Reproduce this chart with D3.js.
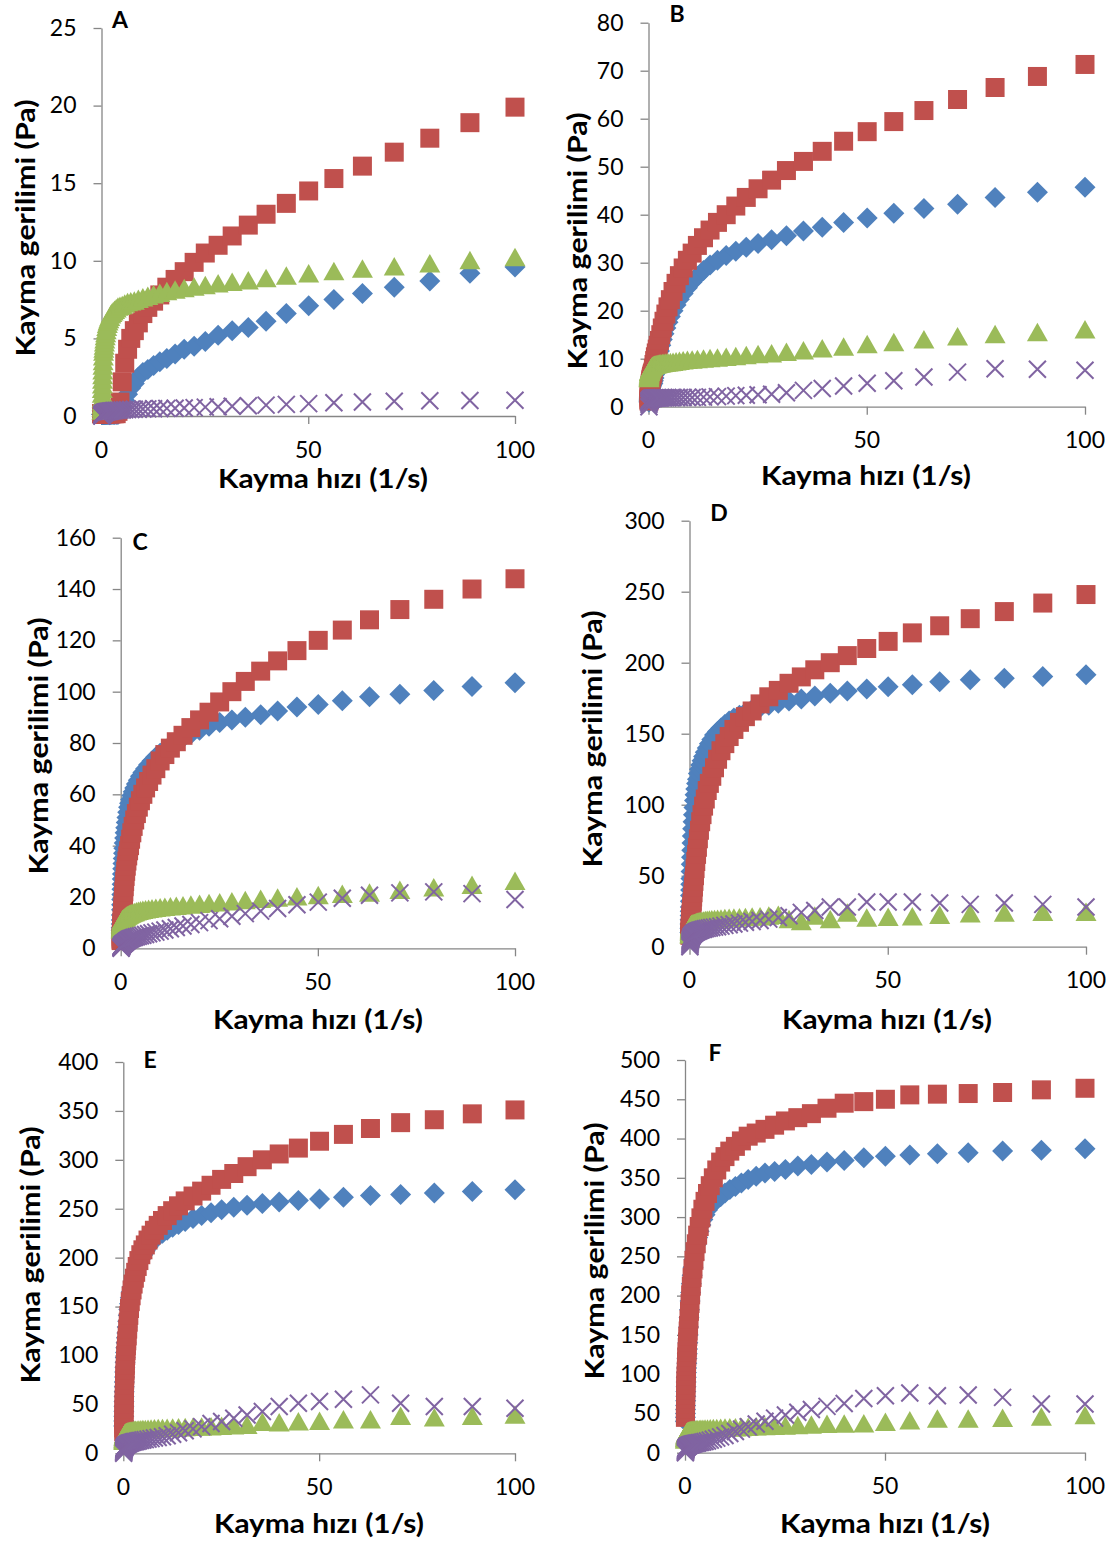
<!DOCTYPE html>
<html>
<head>
<meta charset="utf-8">
<script src="https://cdn.jsdelivr.net/npm/d3@7"></script>
<style>
  body { margin: 0; background: #fff; }
  svg text { font-family: Lato, "Open Sans", sans-serif; fill: #000; }
</style>
</head>
<body>
<svg id="chart" width="1117" height="1544"></svg>
<script>
// shear rate (1/s), log sweep, 20 points per decade
const shearRate = [0.1,0.112,0.126,0.141,0.158,0.178,0.2,0.224,0.251,0.282,
  0.316,0.355,0.398,0.447,0.501,0.562,0.631,0.708,0.794,0.891,
  1,1.12,1.26,1.41,1.58,1.78,2,2.24,2.51,2.82,
  3.16,3.55,3.98,4.47,5.01,5.62,6.31,7.08,7.94,8.91,
  10,11.2,12.6,14.1,15.8,17.8,20,22.4,25.1,28.2,
  31.6,35.5,39.8,44.7,50.1,56.2,63.1,70.8,79.4,89.1,
  100];

const xTicks = [0, 50, 100];

// panel A
const aBlue = [0.1,0.1,0.1,0.1,0.1,0.1,0.1,0.1,0.1,0.1,
  0.1,0.1,0.1,0.1,0.1,0.1,0.1,0.1,0.1,0.1,
  0.1,0.1,0.1,0.1,0.1,0.1,0.1,0.1,0.1,0.1,
  0.1,0.1,0.1,0.2,0.6,1.0,1.4,1.8,2.1,2.5,
  2.8,3.0,3.25,3.5,3.7,4.0,4.3,4.5,4.8,5.2,
  5.5,5.7,6.1,6.6,7.1,7.5,7.9,8.3,8.7,9.2,
  9.6];
const aRed = [0.15,0.15,0.15,0.15,0.15,0.15,0.15,0.15,0.15,0.15,
  0.15,0.15,0.15,0.15,0.15,0.15,0.15,0.15,0.15,0.15,
  0.15,0.15,0.15,0.15,0.15,0.15,0.15,0.15,0.15,0.15,
  0.15,0.15,0.3,0.9,2.2,3.4,4.3,5.0,5.5,6.0,
  6.6,7.0,7.4,7.8,8.3,8.8,9.3,9.9,10.5,11.0,
  11.6,12.3,13.0,13.7,14.5,15.3,16.1,17.0,17.9,18.9,
  19.9];
const aGreen = [0.3,0.5,0.7,0.9,1.1,1.4,1.7,2.0,2.3,2.6,
  2.9,3.2,3.5,3.8,4.1,4.3,4.5,4.7,4.9,5.1,
  5.3,5.5,5.7,5.9,6.05,6.2,6.35,6.5,6.6,6.7,
  6.8,6.9,7.0,7.05,7.1,7.2,7.3,7.35,7.4,7.5,
  7.6,7.7,7.8,7.9,8.0,8.1,8.2,8.3,8.4,8.5,
  8.6,8.7,8.85,9.0,9.15,9.3,9.45,9.6,9.8,10.0,
  10.2];
const aPurple = [0,0.02,0.04,0.06,0.08,0.1,0.11,0.12,0.13,0.14,
  0.15,0.16,0.17,0.18,0.19,0.2,0.21,0.22,0.23,0.24,
  0.25,0.26,0.27,0.28,0.29,0.3,0.31,0.32,0.33,0.34,
  0.35,0.36,0.37,0.38,0.39,0.4,0.41,0.42,0.43,0.44,
  0.45,0.46,0.47,0.48,0.49,0.5,0.52,0.54,0.57,0.6,
  0.63,0.66,0.7,0.75,0.8,0.85,0.9,0.95,0.98,1.0,
  1.02];

// panel B
const bBlue = [1.0,1.2,1.4,1.6,1.8,2.0,2.2,2.4,2.6,2.8,
  3.0,3.2,3.4,3.6,3.8,4.0,4.2,4.4,4.6,4.8,
  4.9,5.4,6.0,6.7,7.5,8.4,9.4,10.4,11.6,12.8,
  14.0,15.2,16.4,17.6,18.8,20.0,21.2,22.4,23.6,24.8,
  26.0,27.2,28.4,29.5,30.5,31.5,32.4,33.2,34.0,34.8,
  35.6,36.6,37.4,38.4,39.3,40.3,41.3,42.2,43.6,44.7,
  45.7];
const bRed = [1.2,1.5,1.8,2.1,2.4,2.7,3.0,3.3,3.6,3.9,
  4.2,4.5,4.8,5.1,5.4,5.7,6.0,6.3,6.6,6.9,
  7.2,8.0,8.8,9.6,10.4,11.2,12.0,12.8,13.8,15.0,
  16.4,17.8,19.3,20.8,22.3,24.0,25.7,27.3,28.9,30.5,
  32.0,33.6,35.2,36.8,38.4,40.0,41.8,43.6,45.4,47.2,
  49.2,51.1,53.2,55.3,57.3,59.4,61.7,64.0,66.5,68.8,
  71.3];
const bGreen = [5.8,6.0,6.2,6.4,6.6,6.8,7.0,7.1,7.2,7.3,
  7.4,7.5,7.6,7.7,7.8,7.9,8.0,8.1,8.2,8.3,
  8.4,8.5,8.55,8.6,8.65,8.7,8.75,8.8,8.85,8.9,
  8.95,9.0,9.05,9.1,9.15,9.2,9.3,9.4,9.5,9.6,
  9.7,9.8,9.9,10.0,10.1,10.25,10.4,10.6,10.8,11.0,
  11.3,11.6,12.0,12.4,12.9,13.3,13.9,14.5,15.0,15.4,
  16.0];
const bPurple = [0,0.5,0.8,1.0,1.1,1.2,1.25,1.3,1.35,1.4,
  1.45,1.5,1.5,1.55,1.6,1.6,1.65,1.7,1.7,1.75,
  1.75,1.75,1.75,1.8,1.8,1.8,1.8,1.8,1.8,1.85,
  1.85,1.85,1.85,1.85,1.85,1.9,1.9,1.9,1.9,1.9,
  1.9,1.95,2.0,2.05,2.1,2.2,2.3,2.4,2.5,2.6,
  2.9,3.4,3.8,4.3,4.9,5.4,6.2,7.2,7.9,7.8,
  7.6];

// panel C
const cBlue = [6,7,8,9.5,11,13,15,17,19,21,
  23,25,27,29,31,33,35,37,39,41,
  43,45,47,49,51,53,55,56.5,58,59.5,
  61,62.5,64,65.5,67,68.5,70,71.5,73,74.5,
  76,77.5,79,80.5,82,83.5,85,86.5,88,89,
  90,91,92.5,94,95,96.5,98,99,100.5,102,
  103.5];
const cRed = [3,3.5,4,4.6,5.2,5.8,6.5,7.2,8,9,
  10,11,12,13.5,15,16.5,18,20,22,24,
  26,28,30,32,34,36,38,40,42.5,45,
  47.5,50,52.5,55,57.5,60,62.5,65,67.5,70,
  73,75.5,78,80.5,83,86,89,92,96,100,
  104,108,112,116,120,124,128,132,136,140,
  144];
const cGreen = [7,7.4,7.8,8.2,8.6,9.0,9.3,9.6,9.9,10.1,
  10.3,10.5,10.7,10.9,11.0,11.1,11.2,11.3,11.4,11.5,
  11.7,11.9,12.1,12.3,12.5,12.7,12.9,13.1,13.3,13.5,
  13.7,13.9,14.1,14.3,14.5,14.7,14.9,15.1,15.3,15.5,
  15.7,15.9,16.1,16.3,16.5,16.8,17.1,17.4,17.7,18.0,
  18.5,19.0,19.5,20.0,20.5,21.0,21.5,22.5,23.5,24.5,
  26];
const cPurple = [0,0.2,0.35,0.5,0.6,0.7,0.8,0.9,1.0,1.05,
  1.1,1.2,1.3,1.4,1.5,1.6,1.7,1.8,1.9,2.0,
  2.1,2.3,2.5,2.7,2.9,3.1,3.3,3.5,3.7,3.9,
  4.1,4.3,4.5,4.7,4.9,5.1,5.4,5.7,6.0,6.3,
  6.7,7.1,7.6,8.1,8.7,9.3,10.0,10.8,11.5,12.5,
  13.5,14.5,15.5,17.0,18.0,19.5,20.7,21.6,22.0,21.3,
  19];

// panel D
const dBlue = [10,13,16,19,22,25,28,32,36,40,
  44,48,53,58,63,68,73,78,83,88,
  93,98,103,107,111,115,118,122,125,128,
  131,134,137,140,143,146,149,151.5,154,156.5,
  159,161,163,165,167,168.5,170,171.5,173,174.5,
  176.5,178.5,180,181.5,183,184.5,186.5,188,189,190.3,
  191.5];
const dRed = [8,9,10,11,12,13,14,15.5,17,18.5,
  20,21.5,23,24.5,26,28,30,32,35,38,
  42,46,50,55,60,65,70,76,82,88,
  93,99,104,110,115,120,126,132,138,143,
  148,153,158,162,166,171,176,180.5,185.5,190,
  195,200,205,210,215,221,226,231,236,242,
  248];
const dGreen = [8,9,10,10.8,11.5,12.2,12.8,13.3,13.7,14.1,
  14.4,14.7,14.9,15.1,15.3,15.4,15.5,15.6,15.7,15.75,
  15.8,16,16.2,16.4,16.6,16.8,17,17.2,17.4,17.6,
  17.8,18,18.2,18.4,18.6,18.8,19,19.2,19.4,19.6,
  19.8,20,20.2,20.4,20.7,21,21.5,22,19,17.5,
  21.5,19,23.5,20,20.5,21,22,23,23.5,24,
  24];
const dPurple = [0,1,1.8,2.5,3.2,3.8,4.3,4.8,5.2,5.6,
  6,6.3,6.6,6.9,7.2,7.5,7.8,8.1,8.4,8.7,
  9,9.3,9.6,9.9,10.2,10.5,10.8,11.1,11.4,11.7,
  12,12.3,12.6,12.9,13.2,13.5,13.8,14.1,14.5,15,
  15.5,16,16.6,17.2,17.8,18.5,19.4,20.6,21.8,24.2,
  25.5,28,28,31.5,31.5,31.5,30.8,29.8,30.8,29.8,
  27.9];

// panel E
const eBlue = [28,33,38,43,48,53,58,63,68,73,
  78,83,88,93,98,103,108,113,118,123,
  129,135,141,147,153,159,165,170,175,180,
  185,190,195,199,203,207,211,215,219,222,
  225,228,231,234,237,240,243,246,249,251.5,
  253.5,255.3,257,258.4,260,261.8,263.5,264.5,266,267.5,
  269.5];
const eRed = [22,26,30,35,40,45,50,55,60,65,
  70,75,80,85,90,95,100,105,110,115,
  120,127,134,141,148,155,161,167,173,179,
  185,191,197,203,208,213,218,223,228,233,
  238,243,248,253,258,263,268,274,280,286,
  293,300,306,312,319,326,332,338,341,347,
  351];
const eGreen = [12,13,14,15,15.8,16.5,17,17.5,18,18.4,
  18.8,19.1,19.4,19.7,20,20.2,20.4,20.6,20.8,21,
  21.2,21.4,21.6,21.8,22,22.2,22.4,22.6,22.8,23,
  23.2,23.4,23.6,23.8,24,24.2,24.4,24.6,24.8,25,
  25.2,25.4,25.6,25.8,26,26.3,26.6,27,27.4,27.8,
  28.3,31.5,31,32,32.5,34,34,37.5,36,37.5,
  39];
const ePurple = [0,1,2,2.8,3.5,4.1,4.6,5,5.4,5.8,
  6.1,6.4,6.7,7,7.3,7.6,7.9,8.2,8.5,8.8,
  9.1,9.4,9.7,10,10.3,10.6,10.9,11.2,11.5,11.8,
  12.1,12.4,12.8,13.2,13.6,14,14.5,15,15.6,16.2,
  17,18,19.5,21,23,25,27.3,30.5,32.5,35.8,
  39.2,42.7,47.8,51.2,52.9,55.3,59.7,51.2,47.8,47.8,
  46];

// panel F
const fBlue = [40,45,50,55,60,66,72,78,84,90,
  96,102,108,114,120,126,132,140,150,160,
  172,182,193,204,215,226,236,246,256,265,
  274,282,290,297,303,309,314,318,322,326,
  330.6,335,339,343.5,347.7,352,356,358,360.5,365,
  367,370,372,375.4,377.6,379,380.5,382,384,385,
  387];
const fRed = [45,50,56,62,68,74,80,86,92,98,
  104,110,116,122,128,134,141,148,155,162,
  170,180,190,201,212,223,234,245,256,266,
  277,288,299,310,320,330,340,350,360,370,
  377,384,390,397,403,407,411.7,417,422.4,426.6,
  431.7,438.6,445,447,450,455.6,456.5,457.3,458.6,462,
  464];
const fGreen = [16,17,18,19,20,20.8,21.5,22.2,22.8,23.3,
  23.8,24.2,24.6,25,25.3,25.6,25.9,26.2,26.5,26.8,
  27,27.2,27.4,27.6,27.8,28,28.2,28.4,28.6,28.8,
  29,29.2,29.4,29.6,29.8,30,30.2,30.4,30.6,30.8,
  31,31.3,31.6,31.9,32.2,32.6,33,33.4,33.8,34.2,
  35,36,36.3,36.5,38.4,40.5,42.7,42.7,43.5,45,
  47];
const fPurple = [0,1.2,2.2,3,3.7,4.3,4.8,5.2,5.6,6,
  6.3,6.6,6.9,7.2,7.5,7.8,8.1,8.4,8.7,9,
  9.3,9.6,9.9,10.2,10.5,10.8,11.1,11.4,11.7,12,
  12.4,12.8,13.2,13.7,14.3,15,16,17.2,18.6,20.2,
  22,24.5,27,30,33,36.5,40,44,48,51.5,
  55,59,62.7,69,72.5,76,72.5,73.4,70.4,62,
  62];

const ticksA = [0, 5, 10, 15, 20, 25];
const ticksB = [0, 10, 20, 30, 40, 50, 60, 70, 80];
const ticksC = [0, 20, 40, 60, 80, 100, 120, 140, 160];
const ticksD = [0, 50, 100, 150, 200, 250, 300];
const ticksE = [0, 50, 100, 150, 200, 250, 300, 350, 400];
const ticksF = [0, 50, 100, 150, 200, 250, 300, 350, 400, 450, 500];

const yTitle = "Kayma gerilimi (Pa)";
const xTitle = "Kayma hızı (1/s)";

const COLORS = { blue: "#4F81BD", red: "#C0504D", green: "#9BBB59", purple: "#8064A2" };
const AXIS = "#868686";

// layout of each panel in the page
const panels = [
  { label: "A", series: [aBlue, aRed, aGreen, aPurple], ticks: ticksA,
    x0: 101.5, x1: 515, y0: 416, y1: 28, lab: [120, 20], yt: [25, 228], xt: [323, 478] },
  { label: "B", series: [bBlue, bRed, bGreen, bPurple], ticks: ticksB,
    x0: 648.5, x1: 1085, y0: 406.7, y1: 22.7, lab: [677, 14], yt: [577, 241], xt: [866, 475] },
  { label: "C", series: [cBlue, cRed, cGreen, cPurple], ticks: ticksC,
    x0: 120.7, x1: 515, y0: 948.3, y1: 537.7, lab: [140, 542], yt: [38, 746], xt: [318, 1019] },
  { label: "D", series: [dBlue, dRed, dGreen, dPurple], ticks: ticksD,
    x0: 689.5, x1: 1086, y0: 946.7, y1: 520.7, lab: [719, 513], yt: [592, 739], xt: [887, 1019] },
  { label: "E", series: [eBlue, eRed, eGreen, ePurple], ticks: ticksE,
    x0: 123.3, x1: 515, y0: 1453.3, y1: 1062, lab: [150, 1060], yt: [30, 1255], xt: [319, 1523] },
  { label: "F", series: [fBlue, fRed, fGreen, fPurple], ticks: ticksF,
    x0: 685, x1: 1085, y0: 1452.7, y1: 1060, lab: [715, 1053], yt: [594, 1251], xt: [885, 1523] }
];

const markers = [
  { color: COLORS.blue, d: "M0,-10.5L10.5,0L0,10.5L-10.5,0Z", fill: true },
  { color: COLORS.red, d: "M-9.5,-9.5h19v19h-19Z", fill: true },
  { color: COLORS.green, d: "M0,-10L10.5,8.5L-10.5,8.5Z", fill: true },
  { color: COLORS.purple, d: "M-8.5,-8.5L8.5,8.5M-8.5,8.5L8.5,-8.5", fill: false }
];

const svg = d3.select("#chart");
svg.append("rect").attr("width", 1117).attr("height", 1544).attr("fill", "#fff");

panels.forEach(p => {
  const x = d3.scaleLinear().domain([0, 100]).range([p.x0, p.x1]);
  const yMax = p.ticks[p.ticks.length - 1];
  const y = d3.scaleLinear().domain([0, yMax]).range([p.y0, p.y1]);
  const g = svg.append("g").attr("class", "panel");

  // y axis
  const gy = g.append("g")
    .attr("transform", `translate(${p.x0},0)`)
    .call(d3.axisLeft(y).tickValues(p.ticks).tickSize(8).tickSizeOuter(0).tickPadding(17));
  gy.attr("font-family", null).attr("font-size", null);
  gy.select(".domain").attr("stroke", AXIS).attr("stroke-width", 1.3);
  gy.selectAll(".tick line").attr("stroke", AXIS).attr("stroke-width", 1.3);
  gy.selectAll(".tick text").attr("font-size", 23).attr("fill", "#000");

  // x axis
  const gx = g.append("g")
    .attr("transform", `translate(0,${p.y0})`)
    .call(d3.axisBottom(x).tickValues(xTicks).tickSize(8).tickSizeOuter(0).tickFormat(""));
  gx.select(".domain").attr("stroke", AXIS).attr("stroke-width", 1.3);
  gx.selectAll(".tick line").attr("stroke", AXIS).attr("stroke-width", 1.3);

  g.selectAll("text.xlab")
    .data(xTicks)
    .join("text")
    .attr("class", "xlab")
    .attr("x", d => x(d))
    .attr("y", p.y0 + 33.5)
    .attr("dy", "0.36em")
    .attr("text-anchor", "middle")
    .attr("font-size", 23)
    .text(d => d);

  // markers: blue, red, green, purple drawn in that order
  p.series.forEach((vals, i) => {
    const m = markers[i];
    g.append("g")
      .selectAll("path")
      .data(d3.zip(shearRate, vals))
      .join("path")
      .attr("transform", d => `translate(${x(d[0])},${y(d[1])})`)
      .attr("d", m.d)
      .attr("fill", m.fill ? m.color : "none")
      .attr("stroke", m.fill ? "none" : m.color)
      .attr("stroke-width", m.fill ? 0 : 2);
  });

  // titles
  g.append("text")
    .attr("transform", `translate(${p.yt[0]},${p.yt[1]}) rotate(-90)`)
    .attr("text-anchor", "middle")
    .attr("dy", "0.36em")
    .attr("font-size", 27)
    .attr("font-weight", "bold")
    .attr("textLength", 257)
    .attr("lengthAdjust", "spacingAndGlyphs")
    .text(yTitle);

  g.append("text")
    .attr("x", p.xt[0])
    .attr("y", p.xt[1])
    .attr("dy", "0.36em")
    .attr("text-anchor", "middle")
    .attr("font-size", 27)
    .attr("font-weight", "bold")
    .attr("textLength", 210)
    .attr("lengthAdjust", "spacingAndGlyphs")
    .text(xTitle);

  g.append("text")
    .attr("x", p.lab[0])
    .attr("y", p.lab[1])
    .attr("dy", "0.36em")
    .attr("text-anchor", "middle")
    .attr("font-size", 23)
    .attr("font-weight", "bold")
    .text(p.label);
});
</script>
</body>
</html>
